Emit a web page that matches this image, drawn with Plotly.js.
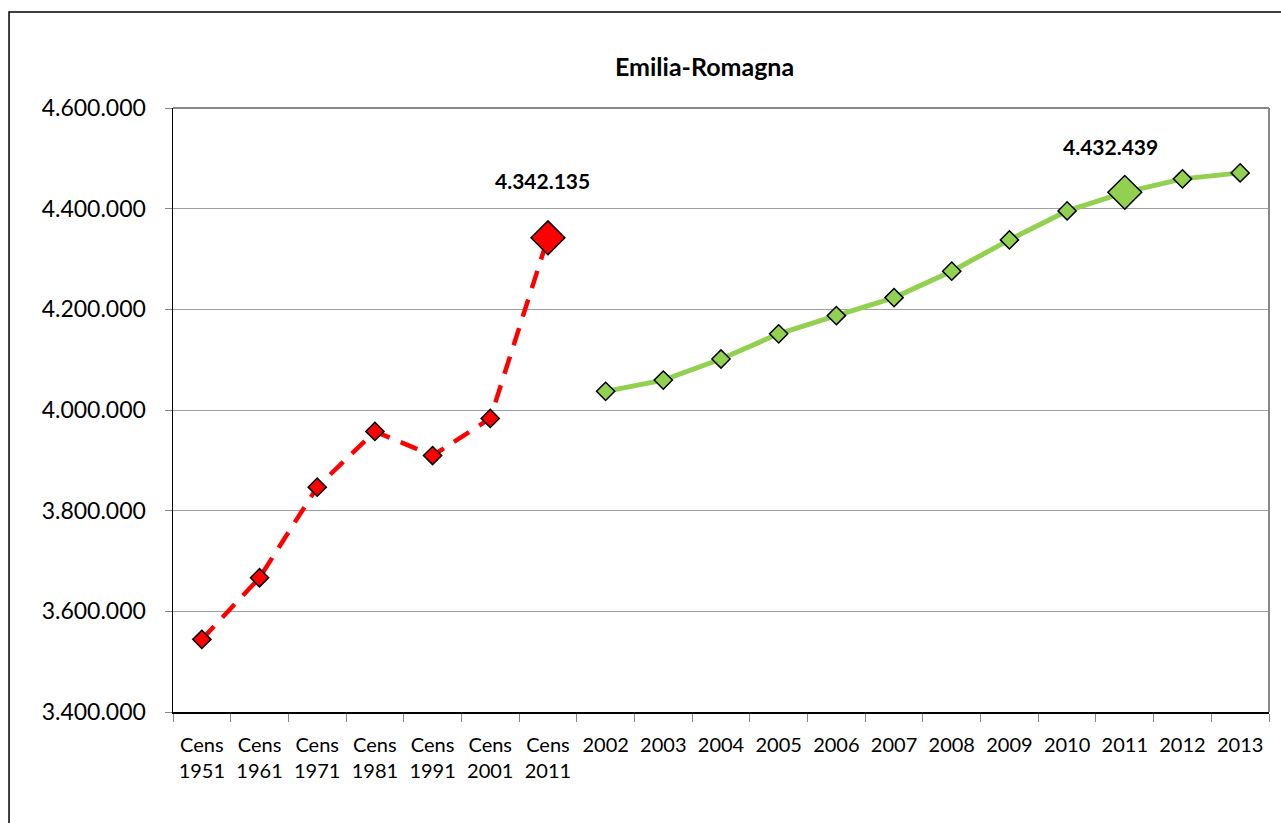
<!DOCTYPE html>
<html>
<head>
<meta charset="utf-8">
<script src="https://cdn.plot.ly/plotly-3.0.1.min.js"></script>
<style>
html,body{margin:0;padding:0;background:#fff;}
#chart{width:1281px;height:823px;}
</style>
</head>
<body>
<div id="chart"></div>
<script>
var categories = ["Cens<br>1951","Cens<br>1961","Cens<br>1971","Cens<br>1981","Cens<br>1991","Cens<br>2001","Cens<br>2011",
  "2002","2003","2004","2005","2006","2007","2008","2009","2010","2011","2012","2013"];
var censusValues = [3544340, 3666680, 3846755, 3957513, 3909512, 3983346, 4342135,
  null,null,null,null,null,null,null,null,null,null,null,null];
var annualValues = [null,null,null,null,null,null,null,
  4037095, 4059416, 4101324, 4151369, 4187557, 4223264, 4275802, 4337979, 4395569, 4432439, 4459246, 4471104];
var censusSizes = [14,14,14,14,14,14,26];
var annualSizes = [0,0,0,0,0,0,0,14,14,14,14,14,14,14,14,14,26,14,14];
var censusLabel = {cat: "Cens<br>2011", value: 4342135, text: "4.342.135"};
var annualLabel = {cat: "2011", value: 4432439, text: "4.432.439"};

var font = "Lato, 'Open Sans', sans-serif";

var traces = [
  {
    x: categories, y: censusValues, type: "scatter", mode: "lines+markers",
    line: {color: "#FF0000", width: 4.5, dash: "18px,12px"},
    marker: {symbol: "diamond", size: censusSizes, color: "#FF0000", opacity: 1, line: {color: "#000", width: 1.5}},
    connectgaps: false, hoverinfo: "x+y"
  },
  {
    x: categories, y: annualValues, type: "scatter", mode: "lines+markers",
    line: {color: "#92D050", width: 5},
    marker: {symbol: "diamond", size: annualSizes, color: "#92D050", opacity: 1, line: {color: "#000", width: 1.5}},
    connectgaps: false, hoverinfo: "x+y"
  }
];

var layout = {
  width: 1281, height: 823,
  margin: {l: 173, r: 12, t: 108, b: 111},
  paper_bgcolor: "#fff", plot_bgcolor: "#fff",
  separators: ",.",
  showlegend: false,
  title: {text: "<b>Emilia-Romagna</b>", font: {family: font, size: 25, color: "#000"},
          xref: "paper", x: 0.485, xanchor: "center", y: 0.918, yanchor: "middle"},
  xaxis: {
    type: "category", categoryorder: "array", categoryarray: categories,
    range: [-0.5, categories.length - 0.5], autorange: false,
    tickson: "boundaries", ticks: "outside", ticklen: 8, tickcolor: "#888", tickangle: 0,
    ticklabelstandoff: 14,
    showline: true, linecolor: "#000", linewidth: 1.5, showgrid: false,
    tickfont: {family: font, size: 20, color: "#000"}, zeroline: false, fixedrange: true
  },
  yaxis: {
    range: [3400000, 4600000], autorange: false, dtick: 200000, tickformat: ",d",
    ticks: "outside", ticklen: 7, tickcolor: "#888", ticklabelstandoff: 14,
    showline: true, linecolor: "#000", linewidth: 1.5,
    showgrid: true, gridcolor: "#A0A0A0", gridwidth: 1,
    tickfont: {family: font, size: 23, color: "#000"}, zeroline: false, fixedrange: true
  },
  annotations: [
    {x: categories.indexOf(censusLabel.cat), y: censusLabel.value, xref: "x", yref: "y", text: "<b>" + censusLabel.text + "</b>",
     showarrow: false, yshift: 57, xshift: -5, font: {family: font, size: 21, color: "#000"}},
    {x: categories.indexOf(annualLabel.cat), y: annualLabel.value, xref: "x", yref: "y", text: "<b>" + annualLabel.text + "</b>",
     showarrow: false, yshift: 46, xshift: -14, font: {family: font, size: 21, color: "#000"}}
  ],
  shapes: [
    {type: "rect", xref: "paper", yref: "paper", x0: -0.1496, x1: 1.05, y0: -0.3, y1: 1.159,
     line: {color: "#000", width: 1.5}, fillcolor: "rgba(0,0,0,0)", layer: "below"},
    {type: "line", xref: "paper", yref: "paper", x0: 1, x1: 1, y0: 0, y1: 1, line: {color: "#888", width: 2}},
    {type: "line", xref: "paper", yref: "paper", x0: 0, x1: 1, y0: 1, y1: 1, line: {color: "#888", width: 2}}
  ]
};

Plotly.newPlot("chart", traces, layout, {displayModeBar: false, staticPlot: true});
</script>
</body>
</html>
